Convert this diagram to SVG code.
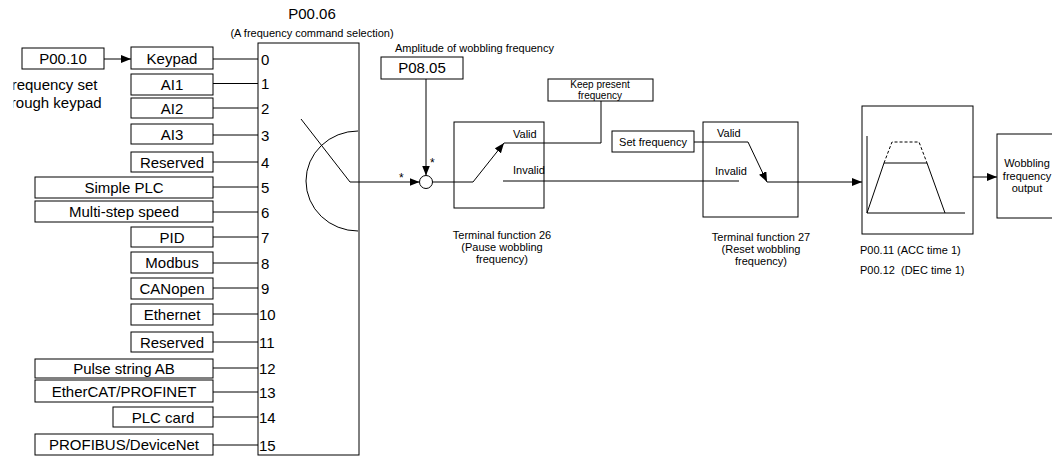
<svg xmlns="http://www.w3.org/2000/svg" width="1052" height="457" viewBox="0 0 1052 457">
<style>
text{font-family:"Liberation Sans",Arial,sans-serif;fill:#000}
.b{fill:#fff;stroke:#000;stroke-width:1}
.l{fill:none;stroke:#000;stroke-width:1}
.t15{font-size:15px;text-anchor:middle}
.n{font-size:15px}
.s{font-size:11px}
.c{text-anchor:middle}
</style>
<defs>
<marker id="ah" markerUnits="userSpaceOnUse" markerWidth="11" markerHeight="8" refX="10" refY="4" orient="auto"><path d="M0,0 L10,4 L0,8 z" fill="#000"/></marker>
<clipPath id="clipL"><rect x="13.5" y="0" width="120" height="457"/></clipPath>
</defs>
<rect width="1052" height="457" fill="#fff"/>

<g id="connectors">
<line class="l" x1="104" y1="59" x2="131" y2="59" marker-end="url(#ah)"/>
<line class="l" x1="213" y1="59" x2="258" y2="59"/>
<line class="l" x1="213" y1="83.5" x2="258" y2="83.5"/>
<line class="l" x1="213" y1="108" x2="258" y2="108"/>
<line class="l" x1="213" y1="135" x2="258" y2="135"/>
<line class="l" x1="213" y1="162" x2="258" y2="162"/>
<line class="l" x1="213" y1="187" x2="258" y2="187"/>
<line class="l" x1="213" y1="212" x2="258" y2="212"/>
<line class="l" x1="213" y1="237" x2="258" y2="237"/>
<line class="l" x1="213" y1="263" x2="258" y2="263"/>
<line class="l" x1="213" y1="288" x2="258" y2="288"/>
<line class="l" x1="213" y1="314" x2="258" y2="314"/>
<line class="l" x1="213" y1="342" x2="258" y2="342"/>
<line class="l" x1="213" y1="368" x2="258" y2="368"/>
<line class="l" x1="213" y1="392" x2="258" y2="392"/>
<line class="l" x1="213" y1="417" x2="258" y2="417"/>
<line class="l" x1="213" y1="445" x2="258" y2="445"/>
<line class="l" x1="301" y1="119" x2="350" y2="182"/>
<path class="l" d="M358,131 A52,50 0 0 0 358,231"/>
<line class="l" x1="350" y1="182" x2="419.5" y2="182" marker-end="url(#ah)"/>
<line class="l" x1="426" y1="79" x2="426" y2="175.5" marker-end="url(#ah)"/>
<circle class="b" cx="426" cy="182" r="6.5"/>
<polyline class="l" points="432.5,182 473,182"/>
<line class="l" x1="473" y1="182" x2="504" y2="143" marker-end="url(#ah)"/>
<polyline class="l" points="504,143 601,143 601,101"/>
<line class="l" x1="503" y1="181" x2="739" y2="181"/>
<polyline class="l" points="694,142 748,142"/>
<line class="l" x1="748" y1="142" x2="767" y2="182" marker-end="url(#ah)"/>
<line class="l" x1="767" y1="182" x2="862" y2="182" marker-end="url(#ah)"/>
<line class="l" x1="973" y1="177" x2="997" y2="177" marker-end="url(#ah)"/>
</g>

<g id="p0010"><rect class="b" x="22" y="48" width="82" height="21"/><text class="t15" x="63" y="64">P00.10</text></g>
<g id="keypad-note" clip-path="url(#clipL)"><text class="t15" x="50" y="90">Frequency set</text><text class="t15" x="50" y="108">through keypad</text></g>

<g id="src0"><rect class="b" x="131" y="47" width="82" height="22"/><text class="t15" x="172" y="63.5">Keypad</text></g>
<g id="src1"><rect class="b" x="131" y="74" width="82" height="21"/><text class="t15" x="172" y="90">AI1</text></g>
<g id="src2"><rect class="b" x="131" y="98" width="82" height="20"/><text class="t15" x="172" y="113.5">AI2</text></g>
<g id="src3"><rect class="b" x="131" y="124" width="82" height="20"/><text class="t15" x="172" y="139.5">AI3</text></g>
<g id="src4"><rect class="b" x="131" y="152" width="82" height="20"/><text class="t15" x="172" y="167.5">Reserved</text></g>
<g id="src5"><rect class="b" x="35" y="177" width="178" height="21"/><text class="t15" x="124" y="193">Simple PLC</text></g>
<g id="src6"><rect class="b" x="35" y="201" width="178" height="21"/><text class="t15" x="124" y="217">Multi-step speed</text></g>
<g id="src7"><rect class="b" x="131" y="227" width="82" height="20"/><text class="t15" x="172" y="242.5">PID</text></g>
<g id="src8"><rect class="b" x="131" y="252" width="82" height="21"/><text class="t15" x="172" y="268">Modbus</text></g>
<g id="src9"><rect class="b" x="131" y="278" width="82" height="21"/><text class="t15" x="172" y="294">CANopen</text></g>
<g id="src10"><rect class="b" x="131" y="304" width="82" height="21"/><text class="t15" x="172" y="320">Ethernet</text></g>
<g id="src11"><rect class="b" x="131" y="332" width="82" height="20"/><text class="t15" x="172" y="347.5">Reserved</text></g>
<g id="src12"><rect class="b" x="35" y="359" width="178" height="19"/><text class="t15" x="124" y="373.5">Pulse string AB</text></g>
<g id="src13"><rect class="b" x="35" y="380" width="178" height="22"/><text class="t15" x="124" y="396.5">EtherCAT/PROFINET</text></g>
<g id="src14"><rect class="b" x="113" y="407" width="100" height="20"/><text class="t15" x="163" y="422.5">PLC card</text></g>
<g id="src15"><rect class="b" x="35" y="434" width="178" height="21"/><text class="t15" x="124" y="450">PROFIBUS/DeviceNet</text></g>

<g id="p0006">
<text class="t15" x="312" y="19">P00.06</text>
<text class="s c" x="312" y="37">(A frequency command selection)</text>
<rect class="l" x="258" y="43" width="101" height="412"/>
<text class="n" x="261" y="64.5">0</text>
<text class="n" x="261" y="89">1</text>
<text class="n" x="261" y="113.5">2</text>
<text class="n" x="261" y="140.5">3</text>
<text class="n" x="261" y="167.5">4</text>
<text class="n" x="261" y="192.5">5</text>
<text class="n" x="261" y="217.5">6</text>
<text class="n" x="261" y="242.5">7</text>
<text class="n" x="261" y="268.5">8</text>
<text class="n" x="261" y="293.5">9</text>
<text class="n" x="259" y="319.5">10</text>
<text class="n" x="259" y="347.5">11</text>
<text class="n" x="259" y="373.5">12</text>
<text class="n" x="259" y="397.5">13</text>
<text class="n" x="259" y="422.5">14</text>
<text class="n" x="259" y="450.5">15</text>
</g>

<g id="p0805">
<text class="s" x="395" y="52">Amplitude of wobbling frequency</text>
<rect class="b" x="381" y="57" width="82" height="22"/><text class="t15" x="422" y="73">P08.05</text>
</g>
<g id="stars"><text style="font-size:12px" x="399" y="182">*</text><text style="font-size:12px" x="430" y="167">*</text></g>

<g id="tf26">
<rect class="l" x="454" y="122" width="90" height="86"/>
<text class="s" x="513" y="138">Valid</text>
<text class="s" x="513" y="174">Invalid</text>
<text class="s c" x="502" y="239">Terminal function 26</text>
<text class="s c" x="502" y="251">(Pause wobbling</text>
<text class="s c" x="502" y="263">frequency)</text>
</g>
<g id="keep"><rect class="b" x="548" y="79" width="105" height="22"/><text class="c" style="font-size:10px" x="600" y="88">Keep present</text><text class="c" style="font-size:10px" x="600" y="99">frequency</text></g>

<g id="setfreq"><rect class="b" x="612" y="131" width="82" height="21"/><text class="s c" x="653" y="146">Set frequency</text></g>
<g id="tf27">
<rect class="l" x="703" y="122" width="95" height="95"/>
<text class="s" x="717" y="137">Valid</text>
<text class="s" x="715" y="175">Invalid</text>
<text class="s c" x="761" y="241">Terminal function 27</text>
<text class="s c" x="761" y="253">(Reset wobbling</text>
<text class="s c" x="761" y="265">frequency)</text>
</g>

<g id="ramp">
<rect class="l" x="862" y="106" width="111" height="128"/>
<polyline class="l" points="867,136 867,213 965,213"/>
<polyline class="l" points="867,213 884,163 927,163 945,213"/>
<polyline class="l" stroke-dasharray="3,2" points="884,163 892,142 919,142 927,163"/>
<text class="s" x="860" y="254">P00.11 (ACC time 1)</text>
<text class="s" x="860" y="274" xml:space="preserve">P00.12  (DEC time 1)</text>
</g>

<g id="output"><rect class="b" x="997" y="134" width="70" height="84"/>
<text class="s c" x="1027" y="167">Wobbling</text><text class="s c" x="1027" y="180">frequency</text><text class="s c" x="1027" y="192">output</text></g>
</svg>
